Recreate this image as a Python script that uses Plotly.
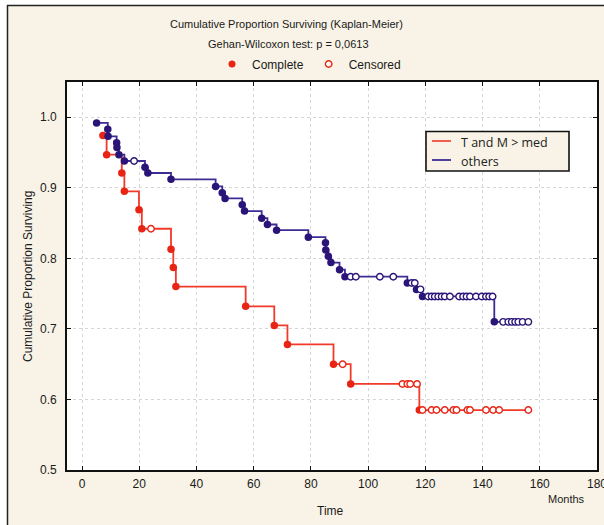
import numpy as np
import plotly.graph_objects as go

# ---------------- data ----------------
red_name = "T and M > med"
red_event_t = [7.3, 8.6, 13.9, 14.8, 19.9, 20.9, 31.1, 31.9, 32.8, 57.2, 67.2, 71.8, 87.9, 93.9, 117.9]
red_event_s = [0.974, 0.947, 0.921, 0.895, 0.869, 0.842, 0.813, 0.787, 0.760, 0.732, 0.705, 0.678, 0.650, 0.622, 0.585]
red_cens_t = [24.1, 91.1, 112.0, 113.7, 114.7, 117.1, 119.0, 122.2, 123.9, 126.8, 129.8, 130.9,
              134.7, 135.6, 141.2, 143.7, 145.8, 156.0]

blue_name = "others"
blue_event_t = [5.1, 9.0, 9.1, 12.1, 12.2, 12.9, 14.8, 22.0, 23.0, 31.1, 46.7, 49.0, 50.0, 56.0, 56.8,
                62.8, 64.8, 68.0, 79.1, 85.1, 85.2, 86.1, 87.0, 90.0, 91.9, 113.7, 116.9, 119.0, 144.1]
blue_event_s = [0.992, 0.983, 0.973, 0.964, 0.957, 0.947, 0.938, 0.929, 0.921, 0.912, 0.902, 0.893, 0.885,
                0.876, 0.867, 0.857, 0.848, 0.840, 0.830, 0.822, 0.812, 0.803, 0.794, 0.784, 0.774,
                0.765, 0.756, 0.746, 0.710]
blue_cens_t = [18.2, 93.9, 95.7, 104.1, 108.8, 115.2, 116.3, 118.3, 121.0, 122.2, 123.3, 124.5, 125.7,
               126.8, 128.6, 131.8, 133.2, 134.4, 135.6, 137.7, 139.7, 141.2, 142.3, 143.5, 147.2,
               149.0, 150.2, 151.4, 152.5, 154.0, 156.0]

x_ticks = [0, 20, 40, 60, 80, 100, 120, 140, 160, 180]
y_ticks = [0.5, 0.6, 0.7, 0.8, 0.9, 1.0]

title_1 = "Cumulative Proportion Surviving (Kaplan-Meier)"
title_2 = "Gehan-Wilcoxon test: p = 0,0613"
x_title = "Time"
x_unit = "Months"
y_title = "Cumulative Proportion Surviving"

# ---------------- styling ----------------
RED_LINE, RED_MARK = "#F23A2A", "#E82414"
BLUE_LINE, BLUE_MARK = "#3E2C94", "#2A1478"
BEIGE = "#F8F3E6"
FONT = "Liberation Sans"


def level_at(ev_t, ev_s, t):
    idx = np.searchsorted(np.asarray(ev_t), t, side="right") - 1
    return float(ev_s[max(idx, 0)])


fig = go.Figure()

for name, et, es, ct, lc, mc in [
    (red_name, red_event_t, red_event_s, red_cens_t, RED_LINE, RED_MARK),
    (blue_name, blue_event_t, blue_event_s, blue_cens_t, BLUE_LINE, BLUE_MARK),
]:
    last_t = max(max(ct), max(et))
    line_x = list(et) + [last_t]
    line_y = list(es) + [es[-1]]
    fig.add_trace(go.Scatter(x=line_x, y=line_y, mode="lines", line=dict(color=lc, width=1.8, shape="hv"),
                             name=name, showlegend=False, hoverinfo="skip"))
    fig.add_trace(go.Scatter(x=et, y=es, mode="markers", showlegend=False,
                             marker=dict(color=mc, size=7.5, line=dict(width=0))))
    cs = [level_at(et, es, t) for t in ct]
    fig.add_trace(go.Scatter(x=ct, y=cs, mode="markers", showlegend=False,
                             marker=dict(color="white", size=6.5, line=dict(color=mc, width=1.4))))

# top legend (Complete / Censored)
fig.add_trace(go.Scatter(x=[None], y=[None], mode="markers", name="Complete", legend="legend2",
                         marker=dict(color=RED_MARK, size=7)))
fig.add_trace(go.Scatter(x=[None], y=[None], mode="markers", name="Censored", legend="legend2",
                         marker=dict(color="white", size=6.5, line=dict(color=RED_MARK, width=1.4))))


# pixel -> paper helpers (plot area: x 67..597, y 82..470)
def px(x):
    return (x - 67) / 530.0


def py(y):
    return (470 - y) / 388.0


axis_common = dict(showgrid=True, gridcolor="#D6D6D6", griddash="dot", gridwidth=1,
                   showline=True, linecolor="#111", linewidth=1.6, mirror="ticks",
                   ticks="inside", ticklen=4, tickcolor="#111", tickwidth=1.2,
                   zeroline=False, tickfont=dict(family=FONT, size=12, color="#1a1a1a"))

txt = dict(xref="paper", yref="paper", showarrow=False, yanchor="middle")

annotations = [
    dict(text=title_1, x=px(286), y=py(24), xanchor="center", font=dict(family=FONT, size=11, color="#1a1a1a"), **txt),
    dict(text=title_2, x=px(288), y=py(44), xanchor="center", font=dict(family=FONT, size=11, color="#1a1a1a"), **txt),
    dict(text=x_title, x=px(330), y=py(511), xanchor="center", font=dict(family=FONT, size=12, color="#1a1a1a"), **txt),
    dict(text=x_unit, x=px(566), y=py(499), xanchor="center", font=dict(family=FONT, size=11, color="#1a1a1a"), **txt),
    dict(text=y_title, x=px(28), y=py(277), xanchor="center", textangle=-90,
         font=dict(family=FONT, size=12, color="#1a1a1a"), **txt),
    # inner legend texts
    dict(text=red_name, x=px(459), y=py(142), xanchor="left",
         font=dict(family="Open Sans", size=12.5, color="#222"), **txt),
    dict(text=blue_name, x=px(459), y=py(161), xanchor="left",
         font=dict(family="Open Sans", size=12.5, color="#222"), **txt),
]

shapes = [
    # outer frame of the figure
    dict(type="rect", xref="paper", yref="paper", x0=px(-2), x1=px(606), y0=py(5), y1=py(-2),
         fillcolor="white", line=dict(width=0), layer="below"),
    dict(type="rect", xref="paper", yref="paper", x0=px(-2), x1=px(7), y0=py(527), y1=py(-2),
         fillcolor="white", line=dict(width=0), layer="below"),
    dict(type="line", xref="paper", yref="paper", x0=px(7), x1=px(606), y0=py(5.5), y1=py(5.5),
         line=dict(color="#222", width=1.5), layer="below"),
    dict(type="line", xref="paper", yref="paper", x0=px(7.5), x1=px(7.5), y0=py(5), y1=py(527),
         line=dict(color="#222", width=1.5), layer="below"),
    # inner legend box and line samples
    dict(type="rect", xref="paper", yref="paper", x0=px(426), x1=px(569), y0=py(171), y1=py(131.5),
         fillcolor=BEIGE, line=dict(color="#111", width=1.6), layer="above"),
    dict(type="line", xref="paper", yref="paper", x0=px(432), x1=px(451), y0=py(141), y1=py(141),
         line=dict(color=RED_LINE, width=1.6), layer="above"),
    dict(type="line", xref="paper", yref="paper", x0=px(432), x1=px(451), y0=py(160), y1=py(160),
         line=dict(color=BLUE_LINE, width=1.8), layer="above"),
]

fig.update_layout(
    width=604, height=525,
    margin=dict(l=67, r=7, t=82, b=55, autoexpand=False),
    paper_bgcolor=BEIGE, plot_bgcolor="white",
    font=dict(family=FONT, color="#1a1a1a"),
    xaxis=dict(range=[-5.25, 180], tickvals=x_ticks, ticklabelstandoff=2, ticklabeloverflow="allow",
               **axis_common),
    yaxis=dict(range=[0.5, 1.05], tickvals=y_ticks, tickformat=".1f", ticklabelstandoff=6, **axis_common),
    legend2=dict(orientation="h", x=px(212), y=py(64), xanchor="left", yanchor="middle",
                 bgcolor="rgba(0,0,0,0)", font=dict(family=FONT, size=12, color="#1a1a1a"),
                 itemwidth=30),
    showlegend=True,
    annotations=annotations,
    shapes=shapes,
)

fig.write_html("out.html", config={"displayModeBar": False},
               post_script="document.body.style.margin='0';")
